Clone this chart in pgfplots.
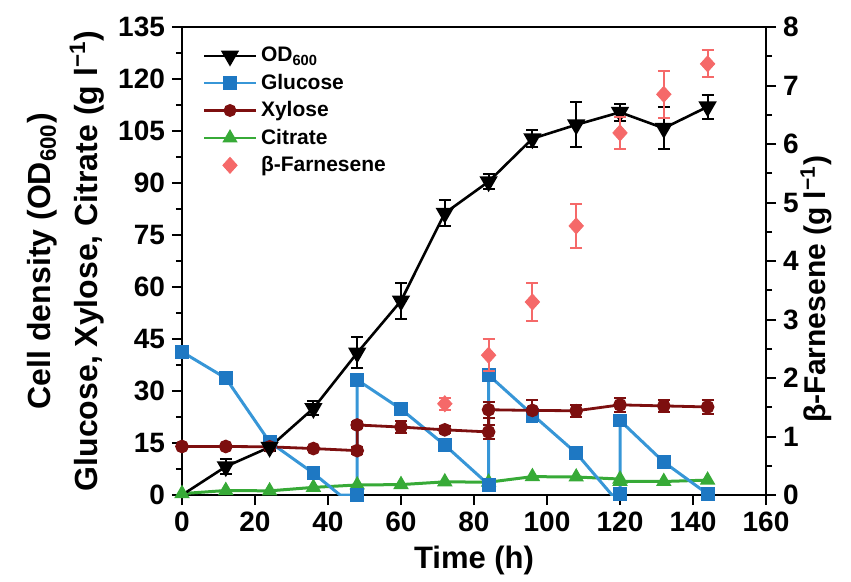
\documentclass[border=0pt]{standalone}
\usepackage{fontspec}
\setmainfont{Liberation Sans}
\usepackage{pgfplots}
\pgfplotsset{compat=1.18}

\definecolor{gluc}{RGB}{55,150,215}
\definecolor{glucmk}{RGB}{30,120,195}
\definecolor{xyl}{RGB}{125,15,15}
\definecolor{cit}{RGB}{55,170,55}
\definecolor{farn}{RGB}{245,105,105}

\pgfplotsset{
  every axis/.append style={
    scale only axis, width=292pt, height=234pt,
    xmin=0, xmax=160, xtick={0,20,...,160},
    axis line style={line width=1pt},
    major tick length=5pt, minor tick length=3pt,
    every tick/.style={line width=1pt, black},
    tick align=outside,
    tick label style={font=\fontsize{14}{16}\selectfont\bfseries},
    label style={font=\fontsize{15.5}{23}\selectfont\bfseries},
    /pgf/number format/assume math mode=true,
  },
  legend image code/.code={\draw[mark repeat=2,mark phase=2] plot coordinates {(0cm,0cm)(0.45cm,0cm)(0.9cm,0cm)};},
  errs/.style={
    /pgfplots/error bars/y dir=both,
    /pgfplots/error bars/y explicit,
    /pgfplots/error bars/error bar style={line width=1pt},
    /pgfplots/error bars/error mark options={rotate=90, line width=1pt, mark size=3pt, solid},
  },
}

\begin{document}
\begin{tikzpicture}
\begin{axis}[name=ax,
  ymin=0, ymax=135, ytick={0,15,...,135}, minor y tick num=1,
  xtick pos=bottom, ytick pos=left,
  xlabel={Time (h)},
  ylabel={Cell density (OD\textsubscript{600})\\Glucose, Xylose, Citrate (g l\textsuperscript{−1})},
  ylabel near ticks,
  ylabel style={align=center, font=\fontsize{16}{23.5}\selectfont\bfseries},
  legend cell align=left,
  legend style={draw=none, fill=none, at={(0.025,0.975)}, anchor=north west,
    font=\fontsize{10.5}{12}\selectfont\bfseries, row sep=0.6pt},
]
% legend entries
\addlegendimage{black, line width=1.3pt, mark=triangle*, mark options={rotate=180, solid, mark size=4pt}}
\addlegendentry{OD\textsubscript{600}}
\addlegendimage{gluc, line width=1.4pt, mark=square*, mark options={glucmk, solid, mark size=3pt}}
\addlegendentry{Glucose}
\addlegendimage{xyl, line width=1.4pt, mark=*, mark options={solid, mark size=2.5pt}}
\addlegendentry{Xylose}
\addlegendimage{cit, line width=1.4pt, mark=triangle*, mark options={solid, mark size=3pt}}
\addlegendentry{Citrate}
\addlegendimage{only marks, farn, mark=diamond*, mark options={mark size=4pt, xscale=1.2}}
\addlegendentry{β-Farnesene}

% Citrate
\addplot[forget plot, cit, line width=1.5pt, mark=triangle*, mark options={solid, mark size=3pt}] coordinates {
(0,0.4) (12,1.3) (24,1.2) (36,2.2) (48,2.9) (60,3.0) (72,3.8) (84,3.7)
(96,5.3) (108,5.2) (120,4.6) (120,3.9) (132,3.9) (144,4.3)
};

% Glucose line (with points where the curve meets zero)
\addplot[forget plot, gluc, line width=1.5pt, mark=none] coordinates {
(0,41.3) (12,33.7) (24,15.3) (36,6.3) (43.3,0) (48,0) (48,33.2) (60,24.8) (72,14.4)
(84,3) (84,34.6) (96,23.2) (108,12.1) (117.8,0) (120,0.3) (120,21.5) (132,9.5) (144,0.3)
};
% Glucose samples
\addplot[forget plot, only marks, glucmk, mark=square*, mark options={mark size=3.2pt}, errs] coordinates {
(0,41.3) +- (0,0.8)
(12,33.7) +- (0,0.8)
(24,15.3) +- (0,0.8)
(36,6.3) +- (0,0.5)
(48,0) +- (0,0.3)
(48,33.2) +- (0,1.5)
(60,24.8) +- (0,1.2)
(72,14.4) +- (0,0.8)
(84,3) +- (0,0.5)
(84,34.6) +- (0,1.5)
(96,23.2) +- (0,2)
(108,12.1) +- (0,1)
(120,0.3) +- (0,0.3)
(120,21.5) +- (0,1)
(132,9.5) +- (0,0.5)
(144,0.3) +- (0,0.3)
};

% Xylose
\addplot[forget plot, xyl, line width=1.4pt, mark=*, mark options={solid, mark size=2.7pt}, errs] coordinates {
(0,14) +- (0,0.5)
(12,14) +- (0,0.5)
(24,13.9) +- (0,0.5)
(36,13.4) +- (0,0.5)
(48,12.8) +- (0,1)
(48,20.2) +- (0,1)
(60,19.6) +- (0,1.8)
(72,18.8) +- (0,1)
(84,18.2) +- (0,2)
(84,24.6) +- (0,2.3)
(96,24.4) +- (0,3)
(108,24.3) +- (0,1.8)
(120,26) +- (0,2)
(132,25.7) +- (0,1.8)
(144,25.4) +- (0,2)
};

% OD600
\addplot[forget plot, black, line width=1.3pt, mark=triangle*, mark indices={2,3,4,5,6,7,8,9,10,11,12,13},
  mark options={rotate=180, solid, mark size=4pt}, errs] coordinates {
(0,0) +- (0,0)
(12,8.2) +- (0,2.2)
(24,13.8) +- (0,1)
(36,25) +- (0,2)
(48,41) +- (0,4.5)
(60,56) +- (0,5.3)
(72,81.3) +- (0,3.7)
(84,90.4) +- (0,2.2)
(96,102.8) +- (0,2.5)
(108,106.8) +- (0,6.5)
(120,110.4) +- (0,2.5)
(132,105.8) +- (0,6)
(144,112) +- (0,3.5)
};
\end{axis}

\begin{axis}[
  ymin=0, ymax=8, ytick={0,1,...,8}, minor y tick num=1,
  axis y line*=right, axis x line=none,
  ylabel={β-Farnesene (g l\textsuperscript{−1})},
  ylabel near ticks,
  ylabel style={font=\fontsize{15}{18}\selectfont\bfseries, xshift=-14pt, yshift=6pt},
]
\addplot[only marks, farn, mark=diamond*, mark options={mark size=4pt, xscale=1.2}, errs,
  /pgfplots/error bars/error bar style={line width=1pt, farn}] coordinates {
(72,1.56) +- (0,0.1)
(84,2.39) +- (0,0.27)
(96,3.3) +- (0,0.32)
(108,4.6) +- (0,0.38)
(120,6.19) +- (0,0.27)
(132,6.85) +- (0,0.4)
(144,7.37) +- (0,0.23)
};
\end{axis}

\pgfresetboundingbox
\path[use as bounding box] ([shift={(-91pt,-43pt)}]ax.south west) rectangle ([shift={(42.5pt,13.5pt)}]ax.north east);
\end{tikzpicture}
\end{document}
